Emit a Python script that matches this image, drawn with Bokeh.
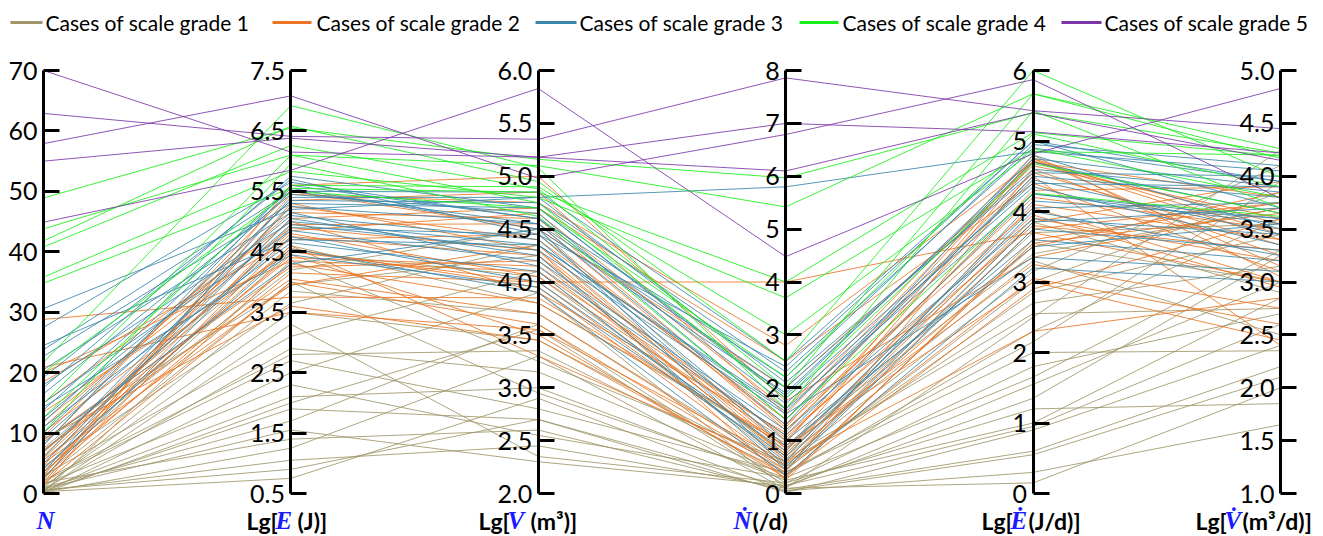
from bokeh.plotting import figure
from bokeh.models import Range1d, LinearAxis, FixedTicker, PrintfTickFormatter
from bokeh.core.properties import value
from bokeh.embed import file_html
from bokeh.resources import INLINE

# ---------------------------------------------------------------------------
# Dimensions (axis order left to right) and their display ranges / ticks
# ---------------------------------------------------------------------------
dim_names = ["N", "lgE", "lgV", "Ndot", "lgEdot", "lgVdot"]
dim_ranges = [(0, 70), (0.5, 7.5), (2.0, 6.0), (0, 8), (0, 6), (1.0, 5.0)]
dim_ticks = [
    [0, 10, 20, 30, 40, 50, 60, 70],
    [0.5, 1.5, 2.5, 3.5, 4.5, 5.5, 6.5, 7.5],
    [2.0, 2.5, 3.0, 3.5, 4.0, 4.5, 5.0, 5.5, 6.0],
    [0, 1, 2, 3, 4, 5, 6, 7, 8],
    [0, 1, 2, 3, 4, 5, 6],
    [1.0, 1.5, 2.0, 2.5, 3.0, 3.5, 4.0, 4.5, 5.0],
]
dim_formats = ["%d", "%.1f", "%.1f", "%d", "%d", "%.1f"]

# ---------------------------------------------------------------------------
# Cases: [N, Lg E, Lg V, N-dot, Lg E-dot, Lg V-dot]
# ---------------------------------------------------------------------------
grade1 = [
    [0.3, 0.75, 2.9, 0.05, 0.3, 1.65],
    [0.5, 1.05, 2.45, 0.1, 0.15, 2.0],
    [0.2, 1.25, 3.3, 0.08, 0.6, 2.2],
    [0.8, 1.55, 2.3, 0.15, 0.95, 2.6],
    [1.0, 1.7, 3.6, 0.2, 1.2, 1.85],
    [0.4, 1.9, 2.7, 0.12, 1.55, 3.0],
    [0.6, 2.1, 3.0, 0.25, 1.0, 2.85],
    [1.5, 2.3, 2.55, 0.3, 1.65, 3.3],
    [0.2, 2.5, 3.9, 0.1, 2.5, 4.25],
    [2.0, 2.7, 2.8, 0.4, 2.0, 2.35],
    [0.7, 2.9, 3.15, 0.35, 2.3, 3.6],
    [3.0, 3.1, 4.1, 0.55, 2.7, 3.15],
    [0.5, 3.3, 2.35, 0.2, 1.8, 2.7],
    [1.2, 3.5, 3.45, 0.45, 3.0, 3.85],
    [4.5, 3.65, 4.35, 0.7, 3.3, 2.5],
    [0.9, 3.85, 3.7, 0.5, 2.85, 3.45],
    [2.5, 4.0, 2.95, 0.3, 3.55, 3.0],
    [5.5, 4.2, 4.5, 0.85, 3.85, 2.9],
    [0.3, 4.35, 3.25, 0.6, 3.15, 4.1],
    [3.5, 4.5, 4.05, 0.75, 3.7, 3.55],
    [1.8, 1.4, 2.6, 0.05, 0.55, 2.1],
    [7.5, 4.6, 3.8, 0.9, 3.4, 3.7],
    [0.1, 2.0, 3.55, 0.15, 1.35, 3.25],
    [9.0, 3.95, 4.25, 0.65, 2.55, 2.75],
    [0.6, 0.9, 2.7, 0.02, 0.9, 2.4],
    [2.2, 2.8, 3.35, 0.4, 2.15, 3.95],
]

grade2 = [
    [28.8, 3.75, 3.85, 0.9, 3.0, 2.45],
    [20.9, 3.5, 3.55, 0.6, 2.3, 2.85],
    [20.0, 4.35, 4.1, 1.1, 3.8, 3.3],
    [18.5, 4.7, 4.45, 1.3, 4.05, 3.0],
    [12.0, 4.9, 4.3, 0.8, 4.7, 3.55],
    [11.0, 5.15, 4.6, 1.25, 4.75, 3.45],
    [10.2, 4.55, 3.95, 0.5, 3.75, 3.75],
    [9.5, 5.35, 4.85, 1.5, 4.72, 3.4],
    [8.8, 4.25, 4.2, 0.7, 3.9, 3.2],
    [8.0, 5.5, 4.5, 2.0, 4.65, 3.6],
    [7.3, 4.05, 3.7, 0.45, 3.05, 2.6],
    [6.8, 4.8, 4.05, 1.0, 4.3, 3.9],
    [6.2, 5.05, 4.7, 2.5, 4.4, 3.1],
    [5.5, 4.45, 3.5, 0.3, 3.55, 3.65],
    [5.0, 3.95, 4.35, 0.85, 3.25, 2.75],
    [4.6, 5.25, 4.4, 1.4, 4.55, 3.35],
    [4.0, 4.6, 3.3, 0.55, 3.85, 3.95],
    [3.6, 4.15, 4.0, 0.65, 3.5, 3.85],
    [3.2, 4.95, 4.55, 1.2, 4.2, 3.5],
    [2.8, 4.3, 3.8, 0.95, 4.75, 3.15],
    [2.4, 5.45, 4.75, 2.8, 4.7, 3.8],
    [2.0, 4.75, 4.25, 1.05, 3.95, 2.95],
    [1.6, 4.0, 3.6, 0.4, 4.6, 3.25],
    [1.2, 5.6, 5.0, 1.75, 3.35, 3.7],
    [13.5, 4.5, 4.0, 4.0, 3.7, 3.0],
    [15.0, 5.0, 3.9, 1.15, 4.5, 2.4],
    [9.0, 3.6, 3.45, 0.35, 2.9, 3.6],
    [7.0, 4.4, 4.15, 0.75, 4.1, 3.4],
    [5.8, 4.85, 4.65, 1.6, 4.8, 3.05],
    [3.0, 5.3, 4.3, 0.25, 3.6, 3.75],
]

grade3 = [
    [30.6, 5.2, 4.8, 5.8, 4.85, 4.05],
    [27.5, 5.65, 4.6, 2.2, 4.95, 4.1],
    [23.8, 5.5, 4.55, 2.0, 4.6, 3.85],
    [22.7, 5.3, 4.7, 1.8, 4.4, 3.9],
    [19.2, 5.7, 4.45, 2.4, 5.0, 3.7],
    [18.0, 5.0, 4.35, 1.6, 4.25, 3.55],
    [16.5, 5.45, 4.65, 1.4, 4.5, 3.8],
    [15.0, 4.85, 4.2, 1.2, 3.9, 3.45],
    [13.8, 5.55, 4.5, 1.9, 4.7, 3.65],
    [12.5, 5.1, 4.4, 0.9, 3.6, 3.2],
    [11.0, 4.65, 4.1, 0.6, 4.15, 3.6],
    [10.0, 5.35, 4.75, 2.3, 4.9, 3.95],
    [9.2, 4.95, 4.3, 1.5, 3.35, 3.1],
    [8.0, 5.6, 4.6, 1.7, 4.35, 3.35],
    [7.0, 4.75, 4.0, 0.8, 4.05, 3.75],
    [6.0, 5.25, 4.55, 1.3, 4.8, 3.5],
    [5.0, 5.05, 4.25, 0.45, 3.75, 3.3],
    [4.2, 4.55, 3.9, 0.35, 3.2, 3.0],
    [3.5, 5.4, 4.8, 2.1, 4.55, 4.0],
    [2.6, 4.9, 4.45, 1.0, 3.5, 3.55],
    [17.5, 5.75, 4.7, 1.85, 4.75, 3.9],
    [14.3, 4.45, 3.95, 0.7, 4.0, 3.25],
    [20.5, 5.15, 4.15, 1.1, 4.25, 3.6],
    [24.5, 4.7, 4.35, 1.55, 4.45, 3.45],
    [11.8, 5.5, 4.85, 2.5, 5.0, 3.95],
    [8.5, 4.3, 4.5, 0.5, 3.85, 3.7],
]

grade4 = [
    [48.9, 6.55, 5.16, 5.97, 5.4, 4.22],
    [43.8, 6.1, 5.1, 5.42, 5.67, 4.26],
    [41.8, 6.58, 4.95, 2.5, 6.0, 3.99],
    [40.8, 6.26, 4.88, 2.0, 5.67, 4.17],
    [35.8, 5.83, 4.8, 3.7, 4.89, 3.8],
    [34.8, 5.55, 4.85, 4.0, 5.12, 4.19],
    [21.7, 6.92, 5.08, 1.6, 5.43, 3.7],
    [20.0, 5.5, 4.7, 2.2, 5.1, 3.9],
    [14.9, 6.1, 4.75, 1.8, 4.68, 3.65],
    [12.6, 5.6, 4.9, 3.0, 4.85, 4.2],
    [10.1, 5.96, 4.62, 1.4, 4.26, 3.62],
]

grade5 = [
    [57.9, 7.08, 4.98, 6.79, 5.87, 3.79],
    [70.0, 6.15, 5.18, 7.0, 5.13, 4.22],
    [62.9, 6.41, 5.35, 7.86, 5.43, 4.45],
    [55.0, 6.38, 5.18, 6.1, 5.4, 4.15],
    [44.9, 5.85, 5.83, 4.48, 4.82, 4.83],
]

grade_labels = [
    "Cases of  scale grade 1",
    "Cases of scale grade 2",
    "Cases of scale grade 3",
    "Cases of scale grade 4",
    "Cases of scale grade 5",
]
grade_colors = ["#A0966A", "#E97525", "#3A86A8", "#19EE19", "#7B37A8"]
grade_data = [grade1, grade2, grade3, grade4, grade5]

# ---------------------------------------------------------------------------
# Canvas geometry (pixels) -> normalised data space
# ---------------------------------------------------------------------------
W, H = 1323, 536
AX0_PX, AX_STEP_PX = 43.0, 247.4      # x of first axis, spacing between axes
TOP_PX, BOT_PX = 70.0, 493.0          # top / bottom of every axis
SPAN_PX = BOT_PX - TOP_PX

X0 = -AX0_PX / AX_STEP_PX
X1 = (W - AX0_PX) / AX_STEP_PX
Y0 = -(H - BOT_PX) / SPAN_PX
Y1 = BOT_PX / SPAN_PX


def px_x(px):
    return (px - AX0_PX) / AX_STEP_PX


def px_y(py):
    return (BOT_PX - py) / SPAN_PX


p = figure(width=W, height=H, output_backend="svg", toolbar_location=None,
           x_range=Range1d(X0, X1), y_range=Range1d(Y0, Y1),
           x_axis_location=None, y_axis_location=None,
           min_border=0, outline_line_color=None)
p.xgrid.visible = False
p.ygrid.visible = False
p.background_fill_color = "white"
p.border_fill_color = "white"

# ---------------------------------------------------------------------------
# One vertical axis per dimension, each on its own range
# ---------------------------------------------------------------------------
extra = {}
for i, (lo, hi) in enumerate(dim_ranges):
    extra[f"ax{i}"] = Range1d(lo + (hi - lo) * Y0, lo + (hi - lo) * Y1)
p.extra_y_ranges = extra

# ---------------------------------------------------------------------------
# Polylines, one per case
# ---------------------------------------------------------------------------
xs_axis = list(range(len(dim_names)))
for rows, color in zip(grade_data, grade_colors):
    xs, ys = [], []
    for row in rows:
        xs.append(xs_axis)
        ys.append([(v - lo) / (hi - lo) for v, (lo, hi) in zip(row, dim_ranges)])
    p.multi_line(xs=xs, ys=ys, line_color=color, line_width=1, line_alpha=0.85)

for i, ((lo, hi), ticks, fmt) in enumerate(zip(dim_ranges, dim_ticks, dim_formats)):
    ax = LinearAxis(y_range_name=f"ax{i}", fixed_location=i, bounds=(lo, hi),
                    ticker=FixedTicker(ticks=ticks),
                    formatter=PrintfTickFormatter(format=fmt))
    ax.axis_line_width = 3
    ax.axis_line_color = "black"
    ax.major_tick_line_width = 3
    ax.major_tick_line_color = "black"
    ax.major_tick_in = 16
    ax.major_tick_out = 0
    ax.minor_tick_in = 0
    ax.minor_tick_out = 0
    ax.major_label_standoff = 6
    ax.major_label_text_font = "Lato"
    ax.major_label_text_font_size = "25px"
    ax.major_label_text_color = "black"
    p.add_layout(ax, "left")

# ---------------------------------------------------------------------------
# Legend across the top
# ---------------------------------------------------------------------------
legend_line_px = [(10, 42), (272, 311), (535, 576), (799, 838), (1061, 1101)]
legend_text_px = [45, 316, 579, 842, 1104]
LEG_Y = 22
for (xa, xb), tx, label, color in zip(legend_line_px, legend_text_px,
                                       grade_labels, grade_colors):
    p.segment(x0=[px_x(xa)], y0=[px_y(LEG_Y)], x1=[px_x(xb)], y1=[px_y(LEG_Y)],
              line_color=color, line_width=3)
    p.text(x=[px_x(tx)], y=[px_y(LEG_Y)], text=[label],
           text_font=value("Lato"), text_font_size="21px",
           text_baseline="middle", text_align="left", text_color="black")

# ---------------------------------------------------------------------------
# Axis titles (black upright parts and blue italic symbols)
# ---------------------------------------------------------------------------
TITLE_Y = 520
title_parts = [
    ("N", 36, "sym"),
    ("Lg[", 246, "txt"), ("E", 275, "sym"), ("(J)]", 297, "txt"),
    ("Lg[", 478, "txt"), ("V", 507, "sym"), ("(m³)]", 530, "txt"),
    ("Ṅ", 733, "sym"), ("(/d)", 752, "txt"),
    ("Lg[", 981, "txt"), ("Ė", 1010, "sym"), ("(J/d)]", 1028, "txt"),
    ("Lg[", 1195, "txt"), ("V\u0307", 1224, "sym"), ("(m³/d)]", 1242, "txt"),
]
for text, x, kind in title_parts:
    if kind == "sym":
        p.text(x=[px_x(x)], y=[px_y(TITLE_Y)], text=[text],
               text_font=value("Liberation Serif"), text_font_size="25px",
               text_font_style="bold italic", text_color="#1a1aff",
               text_baseline="middle", text_align="left", text_line_height=1.0)
    else:
        p.text(x=[px_x(x)], y=[px_y(TITLE_Y)], text=[text],
               text_font=value("Lato"), text_font_size="23px",
               text_font_style="bold", text_color="black",
               text_baseline="middle", text_align="left", text_line_height=1.0)

open("out.html", "w").write(file_html(p, INLINE))
